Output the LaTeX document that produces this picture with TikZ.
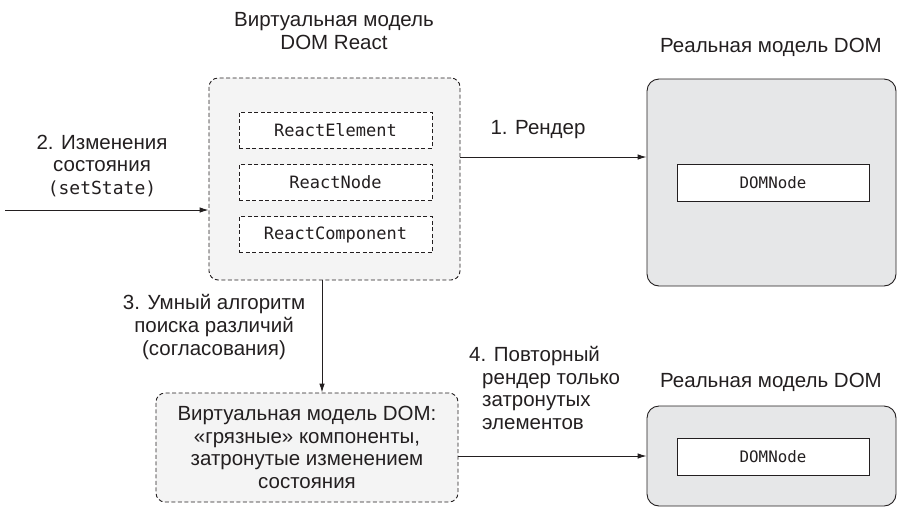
\documentclass[tikz,border=0pt]{standalone}
\usepackage{fontspec}
\setmainfont{Liberation Sans}
\setmonofont{DejaVu Sans Mono}
\usetikzlibrary{arrows.meta}
\definecolor{txt}{HTML}{231F20}
\definecolor{vfill}{HTML}{F4F4F4}
\definecolor{rfill}{HTML}{E6E7E8}
\tikzset{
  lbl/.style={text=txt,font=\fontsize{20.5pt}{22.7pt}\selectfont,align=center,inner sep=0pt},
  vbox/.style={draw=txt,fill=vfill,dash pattern=on 4pt off 2.5pt,rounded corners=9pt,line width=0.9pt,inner sep=0pt},
  rbox/.style={draw=txt,fill=rfill,rounded corners=12pt,line width=0.9pt,inner sep=0pt},
  ibox/.style={draw=txt,fill=white,dash pattern=on 4pt off 2.5pt,line width=0.9pt,minimum width=193pt,minimum height=36pt,inner sep=0pt,text=txt,font=\fontsize{17pt}{18pt}\ttfamily},
  dbox/.style={draw=txt,fill=white,line width=0.9pt,minimum width=192pt,minimum height=37pt,inner sep=0pt,text=txt,font=\fontsize{15.8pt}{18pt}\ttfamily},
  arr/.style={draw=txt,line width=0.9pt,-{Latex[length=9pt,width=5.5pt]}}
}
\begin{document}
\begin{tikzpicture}[x=1pt,y=-1pt]
\useasboundingbox (0,0) rectangle (897,507);
% virtual DOM
\node[lbl] (vtitle) at (334,31) {Виртуальная модель\\DOM React};
\node[vbox,minimum width=251pt,minimum height=202pt] (vdom) at (334.5,179) {};
\node[ibox] (re) at (335.5,130) {ReactElement};
\node[ibox] (rn) at (335.5,182.5) {ReactNode};
\node[ibox] (rc) at (335.5,234.5) {ReactComponent};
% real DOM 1
\node[lbl] (rtitle1) at (771,47) {Реальная модель DOM};
\node[rbox,minimum width=249pt,minimum height=207pt] (real1) at (771.5,182.5) {};
\node[dbox] (dn1) at (773,182.5) {DOMNode};
% dirty virtual DOM
\node[vbox,minimum width=302pt,minimum height=109pt,lbl,fill=vfill,draw=txt] (dirty) at (307,447.5) {Виртуальная модель DOM:\\«грязные» компоненты,\\затронутые изменением\\состояния};
% real DOM 2
\node[lbl] (rtitle2) at (771,382) {Реальная модель DOM};
\node[rbox,minimum width=249pt,minimum height=100pt] (real2) at (771.5,456) {};
\node[dbox] (dn2) at (773,456.5) {DOMNode};
% arrows
\coordinate (start2) at (5,210);
\draw[arr] (vdom.east |- 0,157) -- (real1.west |- 0,157);
\node[lbl] (l1) at (538,130) {1. Рендер};
\draw[arr] (start2) -- (vdom.west |- start2);
\node[lbl] (l2) at (102,166) {2. Изменения\\состояния\\{\fontsize{18pt}{18pt}\ttfamily (setState)}};
\draw[arr] (vdom.south -| 322,0) -- (dirty.north -| 322,0);
\node[lbl] (l3) at (214,327) {3. Умный алгоритм\\поиска различий\\(согласования)};
\draw[arr] (dirty.east |- 0,456) -- (real2.west |- 0,456);
\node[lbl,align=left,anchor=west] (l4) at (469,388) {4. Повторный\\\hspace*{13pt}рендер только\\\hspace*{13pt}затронутых\\\hspace*{13pt}элементов};
\end{tikzpicture}
\end{document}
